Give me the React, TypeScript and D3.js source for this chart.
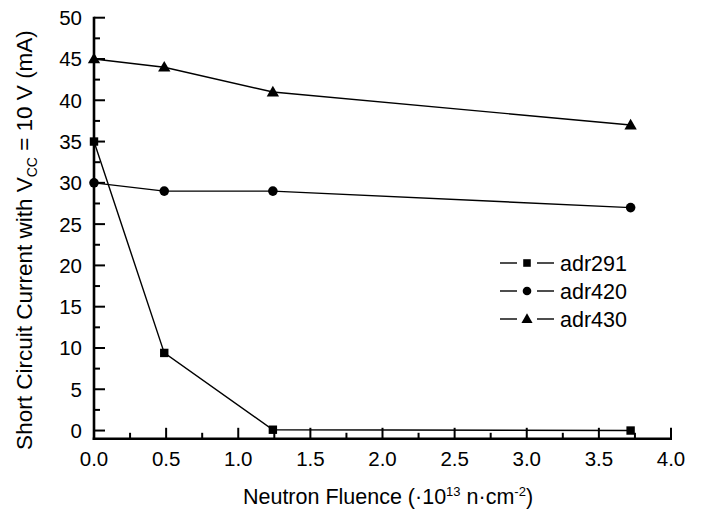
import React from "react";
import * as d3 from "d3";

const fluence = [0, 0.487, 1.24, 3.72];
const adr291 = [35, 9.4, 0.1, 0];
const adr420 = [30, 29, 29, 27];
const adr430 = [45, 44, 41, 37];
const seriesNames = ["adr291", "adr420", "adr430"];
const markerTypes = ["square", "circle", "triangle"];
const yTicks = [0, 5, 10, 15, 20, 25, 30, 35, 40, 45, 50];
const yMinor = [2.5, 7.5, 12.5, 17.5, 22.5, 27.5, 32.5, 37.5, 42.5, 47.5];
const xTicks = [0, 0.5, 1, 1.5, 2, 2.5, 3, 3.5, 4];
const xMinor = [0.25, 0.75, 1.25, 1.75, 2.25, 2.75, 3.25, 3.75];

const W = 704, H = 514;
const left = 94, right = 671, top = 17.7, bottom = 438.8;
const FONT = "'Liberation Sans', Arial, Helvetica, sans-serif";

function Marker({ type, x, y, s }: { type: string; x: number; y: number; s: number }) {
  if (type === "square") return <rect x={x - s * 4.2} y={y - s * 4.2} width={s * 8.4} height={s * 8.4} fill="#000" />;
  if (type === "circle") return <circle cx={x} cy={y} r={s * 4.8} fill="#000" />;
  const tri = d3.symbol().type(d3.symbolTriangle).size(66 * s * s)();
  return <path d={tri as string} transform={`translate(${x},${y + s * 0.8})`} fill="#000" />;
}

export default function App() {
  const x = d3.scaleLinear().domain([0, 4]).range([left, right]);
  const y = d3.scaleLinear().domain([-1, 50]).range([bottom, top]);
  const data = [adr291, adr420, adr430];
  const line = d3.line<number>().x((_, i) => x(fluence[i])).y((d) => y(d));
  const legendY = [263, 291, 319];

  return (
    <svg width={W} height={H} style={{ position: "absolute", left: 0, top: 0, background: "#fff" }} fontFamily={FONT}>
      <rect x={0} y={0} width={W} height={H} fill="#fff" />
      {/* series */}
      {data.map((vals, si) => (
        <g key={si}>
          <path d={line(vals) as string} fill="none" stroke="#000" strokeWidth={1.4} />
          {vals.map((v, i) => (
            <Marker key={i} type={markerTypes[si]} x={x(fluence[i])} y={y(v)} s={1} />
          ))}
        </g>
      ))}
      {/* axes */}
      <line x1={left} x2={left} y1={top - 1} y2={bottom + 1.3} stroke="#000" strokeWidth={2.6} />
      <line x1={left - 1.3} x2={right + 1} y1={bottom} y2={bottom} stroke="#000" strokeWidth={2.6} />
      {yTicks.map((t) => (
        <g key={"y" + t}>
          <line x1={left} x2={left + 11} y1={y(t)} y2={y(t)} stroke="#000" strokeWidth={2} />
          <text x={82} y={y(t)} dy="0.36em" textAnchor="end" fontSize={20.5}>{t}</text>
        </g>
      ))}
      {yMinor.map((t) => (
        <line key={"ym" + t} x1={left} x2={left + 6} y1={y(t)} y2={y(t)} stroke="#000" strokeWidth={2} />
      ))}
      {xTicks.map((t) => (
        <g key={"x" + t}>
          <line x1={x(t)} x2={x(t)} y1={bottom} y2={bottom - 11} stroke="#000" strokeWidth={2} />
          <text x={x(t)} y={466} textAnchor="middle" fontSize={20.5}>{t.toFixed(1)}</text>
        </g>
      ))}
      {xMinor.map((t) => (
        <line key={"xm" + t} x1={x(t)} x2={x(t)} y1={bottom} y2={bottom - 6} stroke="#000" strokeWidth={2} />
      ))}
      {/* axis titles */}
      <text x={388} y={504} textAnchor="middle" fontSize={21.5}>
        Neutron Fluence (·10<tspan dy={-8} fontSize={13}>13</tspan>
        <tspan dy={8}> n·cm</tspan>
        <tspan dy={-8} fontSize={13}>-2</tspan>
        <tspan dy={8}>)</tspan>
      </text>
      <text transform={`translate(32,240) rotate(-90)`} textAnchor="middle" fontSize={22.5}>
        Short Circuit Current with V<tspan dy={5} fontSize={14}>CC</tspan>
        <tspan dy={-5}> = 10 V (mA)</tspan>
      </text>
      {/* legend */}
      {seriesNames.map((n, i) => (
        <g key={n}>
          <line x1={500} x2={517} y1={legendY[i]} y2={legendY[i]} stroke="#000" strokeWidth={1.4} />
          <line x1={537} x2={554} y1={legendY[i]} y2={legendY[i]} stroke="#000" strokeWidth={1.4} />
          <Marker type={markerTypes[i]} x={527} y={legendY[i]} s={0.9} />
          <text x={560} y={legendY[i]} dy="0.36em" fontSize={21.5}>{n}</text>
        </g>
      ))}
    </svg>
  );
}
